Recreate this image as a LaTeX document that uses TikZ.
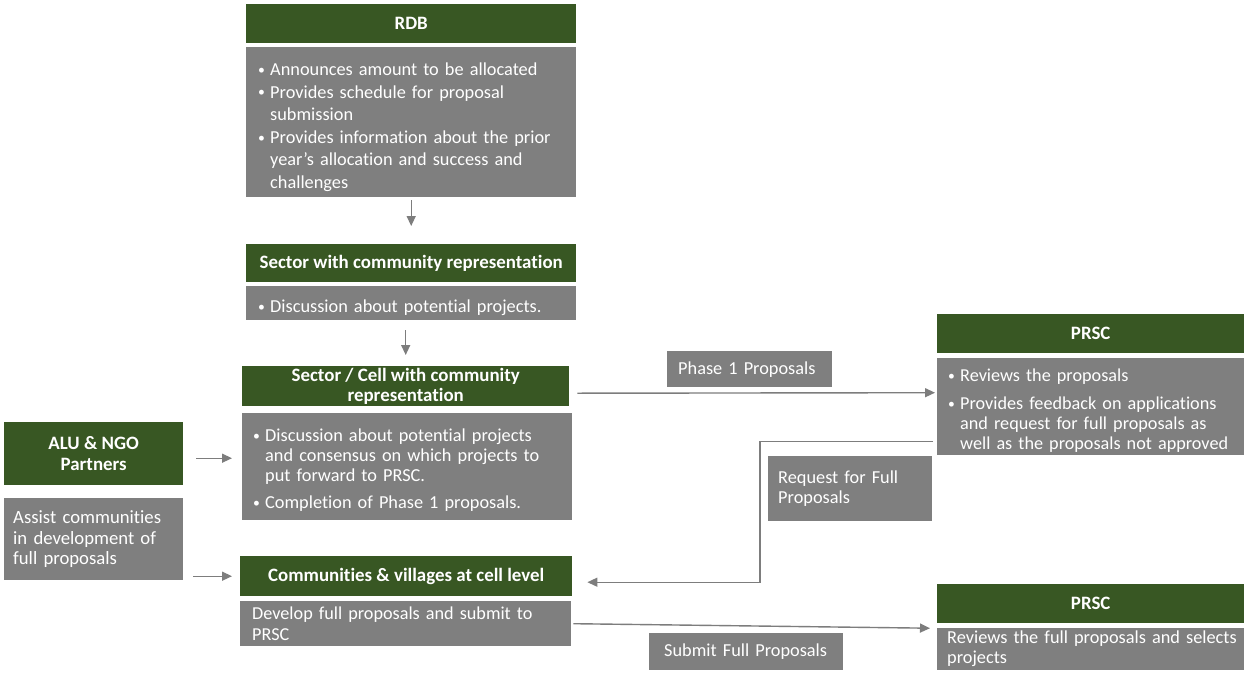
\documentclass[tikz,border=0pt]{standalone}
\usepackage{graphicx}
\usepackage{fontspec}
\setmainfont{Carlito}[Ligatures={NoCommon}]
\usetikzlibrary{arrows.meta}
\definecolor{hgreen}{RGB}{56,87,35}
\definecolor{bgrey}{RGB}{127,127,127}
\definecolor{lgrey}{RGB}{125,125,125}
\newlength\bpad
\newcommand\pd[1]{\setlength\bpad{#1}\leftskip=\bpad\relax}
\newcommand\bitem[1]{\par\leftskip=\dimexpr\bpad+13pt\relax\noindent\hskip-13pt\makebox[13pt][l]{\hskip1pt\raisebox{0.12ex}{\scalebox{0.75}{\textbullet}}}#1\par}
\begin{document}
\begin{tikzpicture}[x=1pt,y=-1pt,
 box/.style={rectangle, anchor=north west, inner sep=0pt, text=white},
 hdr/.style={box, fill=hgreen, align=center, font=\bfseries\fontsize{18.9}{20.5}\selectfont},
 bdy/.style={box, fill=bgrey, align=left, font=\fontsize{18.3}{22.6}\selectfont},
 arr/.style={draw=lgrey, line width=1.4pt, -{Triangle[length=10pt,width=9pt]}}]
\useasboundingbox[fill=white] (0,0) rectangle (1248,675);

% RDB
\node[hdr, minimum width=330pt, minimum height=39pt] (rdbh) at (246,4) {RDB};
\node[bdy, minimum width=330pt, minimum height=150pt, text width=328pt] (rdbb) at (246,47)
 {\pd{10pt}\bitem{Announces amount to be allocated}\bitem{Provides schedule for proposal\\submission}\bitem{Provides information about the prior\\year’s allocation and success and\\challenges}};

% Sector
\node[hdr, minimum width=330pt, minimum height=38pt] (sech) at (246,244) {Sector with community representation};
\node[bdy, minimum width=330pt, minimum height=34pt, text width=328pt] (secb) at (246,286)
 {\pd{10pt}\bitem{Discussion about potential projects.}};

% Sector / Cell
\node[hdr, minimum width=327pt, minimum height=40pt] (secch) at (242,366) {Sector / Cell with community\\representation};
\node[bdy, minimum width=330pt, minimum height=107pt, text width=328pt, font=\fontsize{18.3}{20}\selectfont] (seccb) at (242,413)
 {\pd{9pt}\bitem{Discussion about potential projects\\and consensus on which projects to\\put forward to PRSC.}\vspace{7pt}\bitem{Completion of Phase 1 proposals.}};

% ALU
\node[hdr, minimum width=179pt, minimum height=63pt] (aluh) at (4,422) {ALU \& NGO\\Partners};
\node[bdy, minimum width=179pt, minimum height=82pt, text width=177pt, font=\fontsize{18.7}{20.5}\selectfont] (assist) at (4,498)
 {\pd{8pt}Assist communities\\in development of\\full proposals\par};

% Communities
\node[hdr, minimum width=332pt, minimum height=40pt] (commh) at (240,556) {Communities \& villages at cell level};
\node[bdy, minimum width=331pt, minimum height=45pt, text width=329pt, font=\fontsize{18.2}{21}\selectfont] (commb) at (240,601)
 {\pd{11pt}Develop full proposals and submit to\\PRSC\par};

% PRSC 1
\node[hdr, minimum width=307pt, minimum height=39pt] (prsc1h) at (937,314) {PRSC};
\node[bdy, minimum width=307pt, minimum height=97pt, text width=305pt, font=\fontsize{18.2}{20}\selectfont] (prsc1b) at (937,358)
 {\pd{9pt}\bitem{Reviews the proposals}\vspace{8pt}\bitem{Provides feedback on applications\\and request for full proposals as\\well as the proposals not approved}};

% PRSC 2
\node[hdr, minimum width=307pt, minimum height=39pt] (prsc2h) at (937,584) {PRSC};
\node[bdy, minimum width=307pt, minimum height=42pt, text width=305pt, font=\fontsize{18.3}{20}\selectfont] (prsc2b) at (937,628)
 {\pd{9pt}Reviews the full proposals and selects\\projects\par};

% Labels
\node[bdy, minimum width=165pt, minimum height=36pt, text width=163pt] (phase1) at (667,351) {\pd{10pt}Phase 1 Proposals\par};
\node[bdy, minimum width=164pt, minimum height=65pt, text width=162pt, font=\fontsize{18.3}{20.5}\selectfont] (req) at (768,456) {\pd{9pt}Request for Full\\Proposals\par};
\node[bdy, minimum width=194pt, minimum height=37pt, text width=192pt] (submit) at (649,633) {\pd{14pt}Submit Full Proposals\par};

% Connectors
\draw[arr, shorten <=3pt, shorten >=18pt] (rdbb.south) -- (sech.north);
\draw[arr, shorten <=10pt, shorten >=11pt] (secb.south -| secch.north) -- (secch.north);
\draw[arr] ([xshift=8pt,yshift=-7pt]secch.east) -- ([xshift=-2pt,yshift=14pt]prsc1b.west);
\draw[arr] ([xshift=-4pt,yshift=-34.5pt]prsc1b.west) -- ++(-173,0) |- ([xshift=15pt,yshift=-6pt]commh.east);
\draw[arr] ([xshift=13pt,yshift=-4.5pt]aluh.east) -- ([xshift=-10pt,yshift=8.5pt]seccb.west);
\draw[arr] ([xshift=10pt,yshift=-37pt]assist.east) -- ([xshift=-8pt]commh.west);
\draw[arr] ([xshift=2pt]commb.east) -- ([xshift=-7pt,yshift=21pt]prsc2b.west);
\end{tikzpicture}
\end{document}
